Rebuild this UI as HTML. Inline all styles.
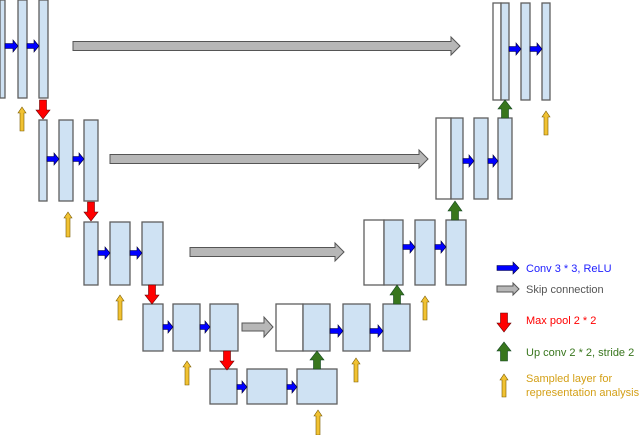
<!DOCTYPE html>
<html><head><meta charset="utf-8"><style>
html,body{margin:0;padding:0;background:#fff;width:640px;height:435px;overflow:hidden}
svg{display:block}
text{font-family:"Liberation Sans",sans-serif;font-size:11px}
.b{fill:#cfe2f3;stroke:#5f5f5f;stroke-width:1.3}
.w{fill:#fff;stroke:#5f5f5f;stroke-width:1.3}
.c{fill:#0000ff;stroke:#000033;stroke-width:0.6}
.s{fill:#b7b7b7;stroke:#555;stroke-width:1}
.r{fill:#ff0000;stroke:#600;stroke-width:0.6}
.g{fill:#38761d;stroke:#142;stroke-width:0.6}
.y{fill:#f1c232;stroke:#7a5a00;stroke-width:0.6}
</style></head><body>
<svg width="640" height="435" viewBox="0 0 640 435">
<rect class="b" x="0" y="0" width="5" height="98"/>
<rect class="b" x="18" y="0" width="9" height="98"/>
<rect class="b" x="39" y="0" width="9" height="98"/>
<rect class="b" x="39" y="120" width="8" height="81"/>
<rect class="b" x="59" y="120" width="14" height="81"/>
<rect class="b" x="84" y="120" width="14" height="81"/>
<rect class="b" x="84" y="222" width="14" height="63"/>
<rect class="b" x="110" y="222" width="20" height="63"/>
<rect class="b" x="142" y="222" width="21" height="63"/>
<rect class="b" x="143" y="304" width="20" height="47"/>
<rect class="b" x="173" y="304" width="27" height="47"/>
<rect class="b" x="210" y="304" width="28" height="47"/>
<rect class="b" x="210" y="369" width="27" height="35"/>
<rect class="b" x="247" y="369" width="40" height="35"/>
<rect class="b" x="297" y="369" width="40" height="35"/>
<rect class="w" x="276" y="304" width="27" height="47"/>
<rect class="b" x="303" y="304" width="27" height="47"/>
<rect class="b" x="343" y="304" width="27" height="47"/>
<rect class="b" x="383" y="304" width="27" height="47"/>
<rect class="w" x="364" y="220" width="20" height="65"/>
<rect class="b" x="384" y="220" width="19" height="65"/>
<rect class="b" x="415" y="220" width="20" height="65"/>
<rect class="b" x="446" y="220" width="20" height="65"/>
<rect class="w" x="436" y="118" width="15" height="81"/>
<rect class="b" x="451" y="118" width="12" height="81"/>
<rect class="b" x="474" y="118" width="14" height="81"/>
<rect class="b" x="498" y="118" width="14" height="81"/>
<rect class="w" x="493" y="3" width="8" height="97"/>
<rect class="b" x="501" y="3" width="8" height="97"/>
<rect class="b" x="521" y="3" width="9" height="97"/>
<rect class="b" x="542" y="3" width="8" height="97"/>

<g class="c">
<path d="M5 43.5H13V40L18 46L13 52V48.5H5Z"/>
<path d="M27 43.5H34V40L39 46L34 52V48.5H27Z"/>
<path d="M47 156.5H54V153L59 159L54 165V161.5H47Z"/>
<path d="M73 156.5H79V153L84 159L79 165V161.5H73Z"/>
<path d="M98 250.5H105V247L110 253L105 259V255.5H98Z"/>
<path d="M130 250.5H137V247L142 253L137 259V255.5H130Z"/>
<path d="M163 324.5H168V321L173 327L168 333V329.5H163Z"/>
<path d="M200 324.5H205V321L210 327L205 333V329.5H200Z"/>
<path d="M237 384.5H242V381L247 387L242 393V389.5H237Z"/>
<path d="M287 384.5H292V381L297 387L292 393V389.5H287Z"/>
<path d="M330 328.5H338V325L343 331L338 337V333.5H330Z"/>
<path d="M370 328.5H378V325L383 331L378 337V333.5H370Z"/>
<path d="M403 244.5H410V241L415 247L410 253V249.5H403Z"/>
<path d="M435 244.5H441V241L446 247L441 253V249.5H435Z"/>
<path d="M463 158.5H469V155L474 161L469 167V163.5H463Z"/>
<path d="M488 158.5H493V155L498 161L493 167V163.5H488Z"/>
<path d="M509 46.5H516V43L521 49L516 55V51.5H509Z"/>
<path d="M530 46.5H537V43L542 49L537 55V51.5H530Z"/>
<path d="M497 265.5H513V262L519 268L513 274V270.5H497Z"/>
</g>
<g class="s">
<path d="M73 41.5H451V37L460 46L451 55V50.5H73Z"/>
<path d="M110 154.5H419V150L428 159L419 168V163.5H110Z"/>
<path d="M190 247.5H335V243L344 252L335 261V256.5H190Z"/>
<path d="M242 323H264V317L273 327L264 337V331H242Z"/>
<path d="M497 286H513V283L519 289L513 295V292H497Z"/>
</g>
<g class="r">
<path d="M39.5 100H46.5V110H50L43 119L36 110H39.5Z"/>
<path d="M87.5 202H94.5V212H98L91 221L84 212H87.5Z"/>
<path d="M148.5 285H155.5V295H159L152 304L145 295H148.5Z"/>
<path d="M223.5 351H230.5V361H234L227 370L220 361H223.5Z"/>
<path d="M500.5 313H507.5V323H511L504 332L497 323H500.5Z"/>
</g>
<g class="g">
<path d="M313.5 369V360H310L317 351L324 360H320.5V369Z"/>
<path d="M393.5 304V295H390L397 285L404 295H400.5V304Z"/>
<path d="M451.5 220V211H448L455 201L462 211H458.5V220Z"/>
<path d="M501.5 118V109H498L505 100L512 109H508.5V118Z"/>
<path d="M500.5 361V351H497L504 342L511 351H507.5V361Z"/>
</g>
<g class="y">
<path d="M20 131V113H18L22 107L26 113H24V131Z"/>
<path d="M66 237V218H64L68 212L72 218H70V237Z"/>
<path d="M118 320V301H116L120 295L124 301H122V320Z"/>
<path d="M185 385V367H183L187 361L191 367H189V385Z"/>
<path d="M316 435V416H314L318 410L322 416H320V435Z"/>
<path d="M354 382V364H352L356 358L360 364H358V382Z"/>
<path d="M423 320V302H421L425 296L429 302H427V320Z"/>
<path d="M544 135V117H542L546 111L550 117H548V135Z"/>
<path d="M502 397V380H500L504 374L508 380H506V397Z"/>
</g>
<text x="526" y="272" fill="#2020ff">Conv 3 * 3, ReLU</text>
<text x="526" y="293" fill="#555">Skip connection</text>
<text x="526" y="324" fill="#ff0000">Max pool 2 * 2</text>
<text x="526" y="356" fill="#38761d">Up conv 2 * 2, stride 2</text>
<text x="526" y="382" fill="#d4a017">Sampled layer for</text>
<text x="526" y="396" fill="#d4a017">representation analysis</text>
</svg>
</body></html>
